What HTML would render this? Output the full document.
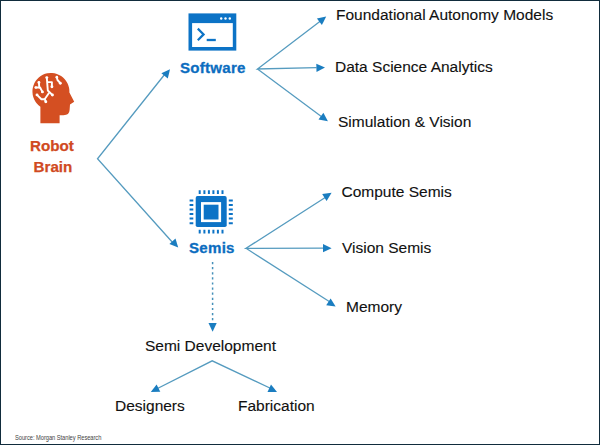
<!DOCTYPE html>
<html><head><meta charset="utf-8">
<style>
html,body{margin:0;padding:0;background:#fff;}
#c{position:relative;width:600px;height:445px;overflow:hidden;background:#fff;}
#c svg{position:absolute;left:0;top:0;}
.t{position:absolute;white-space:nowrap;font-family:"Liberation Sans",sans-serif;line-height:1;}
.r{font-size:15.5px;color:#111;-webkit-text-stroke:0.12px #111;}
.b{font-size:15.1px;letter-spacing:0.25px;font-weight:bold;color:#0c6dc0;-webkit-text-stroke:0.3px #0c6dc0;}
.o{font-size:15.2px;font-weight:bold;color:#d04a22;-webkit-text-stroke:0.25px #d04a22;}
</style></head><body>
<div id="c">
<svg width="600" height="445" viewBox="0 0 600 445">
  <rect x="0.5" y="0.5" width="599" height="444" fill="none" stroke="#112c3c" stroke-width="1"/>
  <g stroke="#559bbf" stroke-width="1.3" fill="none">
    <polyline points="165,74 97.5,158.8 173.5,243.5"/>
    <polyline points="320.5,21 257.5,69 316.5,67.7"/>
    <line x1="257.5" y1="69" x2="322" y2="117"/>
    <polyline points="326,197 246,248.3 324,248.2"/>
    <line x1="246" y1="248.3" x2="330" y2="302"/>
    <polyline points="154.5,390 212.2,360.8 273,389.5"/>
  </g>
  <line x1="212.6" y1="262" x2="212.6" y2="324" stroke="#4590b9" stroke-width="1.5" stroke-dasharray="2.2,2.9"/>
  <g fill="#1a7dc0">
    <polygon points="170.0,69.2 167.8,78.5 161.4,73.3"/>
    <polygon points="178.2,247.6 169.4,244.0 175.5,238.5"/>
    <polygon points="326.2,16.5 321.9,25.0 316.9,18.5"/>
    <polygon points="325.0,67.6 316.5,71.9 316.3,63.7"/>
    <polygon points="327.9,121.2 318.5,119.4 323.4,112.8"/>
    <polygon points="331.6,192.8 326.6,200.9 322.2,194.0"/>
    <polygon points="331.6,248.2 323.0,252.3 323.0,244.1"/>
    <polygon points="335.6,306.5 326.2,305.3 330.6,298.4"/>
    <polygon points="212.6,331.7 208.5,323.1 216.7,323.1"/>
    <polygon points="150.8,392.0 156.6,384.4 160.3,391.8"/>
    <polygon points="277.0,392.0 267.5,392.0 271.0,384.6"/>
  </g>
  <!-- software window -->
  <g>
    <rect x="188.5" y="13.4" width="47.8" height="37.2" fill="#0c73c6"/>
    <rect x="192.1" y="23.1" width="40.7" height="23.9" fill="#fff"/>
    <circle cx="221.2" cy="18.5" r="1.2" fill="#fff"/>
    <circle cx="225.5" cy="18.5" r="1.2" fill="#fff"/>
    <circle cx="229.8" cy="18.5" r="1.2" fill="#fff"/>
    <polyline points="197.8,28.6 203.6,34.4 197.8,40.2" fill="none" stroke="#0c73c6" stroke-width="2.2"/>
    <line x1="206.7" y1="40" x2="215.8" y2="40" stroke="#0c73c6" stroke-width="2.3"/>
  </g>
  <!-- chip -->
  <g fill="#0c73c6">
    <rect x="195.7" y="196.1" width="31" height="31" rx="1.8"/>
    <rect x="201" y="202.1" width="20.1" height="20" fill="#fff"/>
    <rect x="203.7" y="204.7" width="14.8" height="14.8"/>
  </g>
  <g stroke="#0c73c6" stroke-width="2">
    <path d="M199.7 190.2V193.9M204.4 190.2V193.9M208.9 190.2V193.9M213.4 190.2V193.9M217.9 190.2V193.9M222.5 190.2V193.9"/>
    <path d="M199.7 229.7V233.5M204.4 229.7V233.5M208.9 229.7V233.5M213.4 229.7V233.5M217.9 229.7V233.5M222.5 229.7V233.5"/>
    <path d="M189.6 200.5H193.3M189.6 205H193.3M189.6 209.5H193.3M189.6 214H193.3M189.6 218.6H193.3M189.6 223.2H193.3"/>
    <path d="M228.8 200.5H232.8M228.8 205H232.8M228.8 209.5H232.8M228.8 214H232.8M228.8 218.6H232.8M228.8 223.2H232.8"/>
  </g>
  <!-- head -->
  <path fill="#d44f22" d="M40.4 123.3 L40.4 106.7 A18.5 18.5 0 1 1 69.4 92.5 L74.2 101.7 L70 104.6 L69.6 110 Q69.4 115.2 63.5 115.2 L59.6 115.2 L59.6 123.3 Z"/>
  <g stroke="#fff" stroke-width="1.9" fill="none" stroke-linecap="round" stroke-linejoin="round">
    <polyline points="46.8,77.6 47.8,90.5 52.4,95"/>
    <polyline points="47.8,82.1 51.9,82.1 51.9,86.8"/>
    <polyline points="56.8,77.2 57.5,80 60.3,83.2"/>
    <polyline points="35.8,87.5 40.1,87.5 42.4,91.9"/>
    <polyline points="38.9,82.5 39.3,87.5"/>
    <polyline points="37,94.9 41.4,99.2 44.8,99.2 45.8,101.8"/>
    <polyline points="44.8,99 48.8,93.2"/>
  </g>
  <g fill="#fff">
    <circle cx="46.8" cy="77.6" r="1.45"/><circle cx="52.4" cy="95" r="1.45"/><circle cx="51.9" cy="86.8" r="1.45"/>
    <circle cx="56.8" cy="77.2" r="1.35"/><circle cx="60.3" cy="83.2" r="1.45"/><circle cx="35.8" cy="87.5" r="1.35"/>
    <circle cx="42.4" cy="91.9" r="1.45"/><circle cx="38.9" cy="82.5" r="1.45"/><circle cx="37" cy="94.9" r="1.45"/>
    <circle cx="45.8" cy="101.8" r="1.45"/>
  </g>
</svg>
<div class="t o" style="left:30px;top:138px;">Robot</div>
<div class="t o" style="left:33.5px;top:159px;">Brain</div>
<div class="t b" style="left:180px;top:60.3px;">Software</div>
<div class="t b" style="left:189px;top:240.3px;">Semis</div>
<div class="t r" style="left:336px;top:6.8px;">Foundational Autonomy Models</div>
<div class="t r" style="left:335px;top:59px;">Data Science Analytics</div>
<div class="t r" style="left:338px;top:114px;">Simulation &amp; Vision</div>
<div class="t r" style="left:341.5px;top:184px;">Compute Semis</div>
<div class="t r" style="left:342px;top:240px;">Vision Semis</div>
<div class="t r" style="left:346px;top:299px;">Memory</div>
<div class="t r" style="left:145px;top:338px;">Semi Development</div>
<div class="t r" style="left:115px;top:398px;">Designers</div>
<div class="t r" style="left:238px;top:398px;">Fabrication</div>
<div class="t" style="left:15px;top:434.5px;font-size:6.6px;color:#444;transform:scaleX(0.87);transform-origin:0 0;letter-spacing:-0.05px;">Source: Morgan Stanley Research</div>
</div>
</body></html>
